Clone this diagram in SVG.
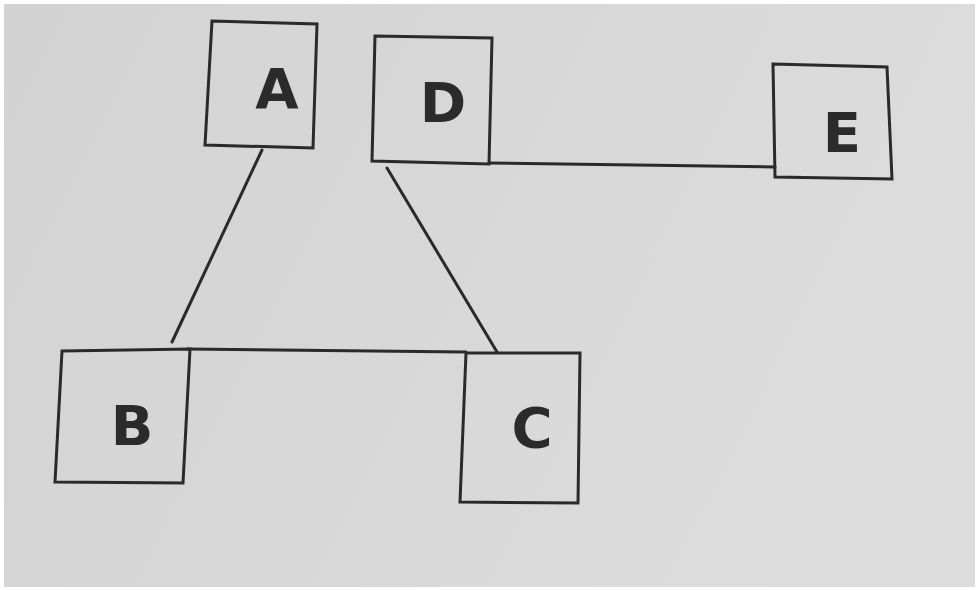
<svg xmlns="http://www.w3.org/2000/svg" width="979" height="590" viewBox="0 0 979 590">
<style>
.box{fill:none;stroke:#2a2a2a;stroke-width:3;stroke-linejoin:miter}
.edge{fill:none;stroke:#2a2a2a;stroke-width:3;stroke-linecap:round}
.lbl{font-family:"DejaVu Sans","Liberation Sans",sans-serif;font-weight:bold;font-size:56px;fill:#2b2b2b;text-anchor:middle}
</style>
<defs>
<linearGradient id="paper" x1="0" y1="0" x2="1" y2="0.3">
<stop offset="0" stop-color="#d3d3d3"/>
<stop offset="1" stop-color="#dcdcdc"/>
</linearGradient>
</defs>
<rect x="0" y="0" width="979" height="590" fill="#ffffff"/>
<rect x="4" y="4" width="971" height="583" fill="url(#paper)"/>
<g id="connectors">
<line class="edge" x1="262" y1="150" x2="172" y2="342"/>
<line class="edge" x1="387" y1="168" x2="497" y2="352"/>
<line class="edge" x1="490" y1="163" x2="775" y2="167"/>
<line class="edge" x1="187" y1="349" x2="466" y2="352"/>
</g>
<g id="node-A">
<polygon class="box" points="212,21 317,24 313,148 205,145"/>
<text class="lbl" x="277" y="108">A</text>
</g>
<g id="node-D">
<polygon class="box" points="375,36 492,38 489,164 372,161"/>
<text class="lbl" x="443" y="122">D</text>
</g>
<g id="node-E">
<polygon class="box" points="773,64 887,67 892,179 775,177"/>
<text class="lbl" x="842" y="152">E</text>
</g>
<g id="node-B">
<polygon class="box" points="62,351 190,349 183,483 55,482"/>
<text class="lbl" x="132" y="445">B</text>
</g>
<g id="node-C">
<polygon class="box" points="466,353 580,353 578,503 460,502"/>
<text class="lbl" x="532" y="447">C</text>
</g>
</svg>
